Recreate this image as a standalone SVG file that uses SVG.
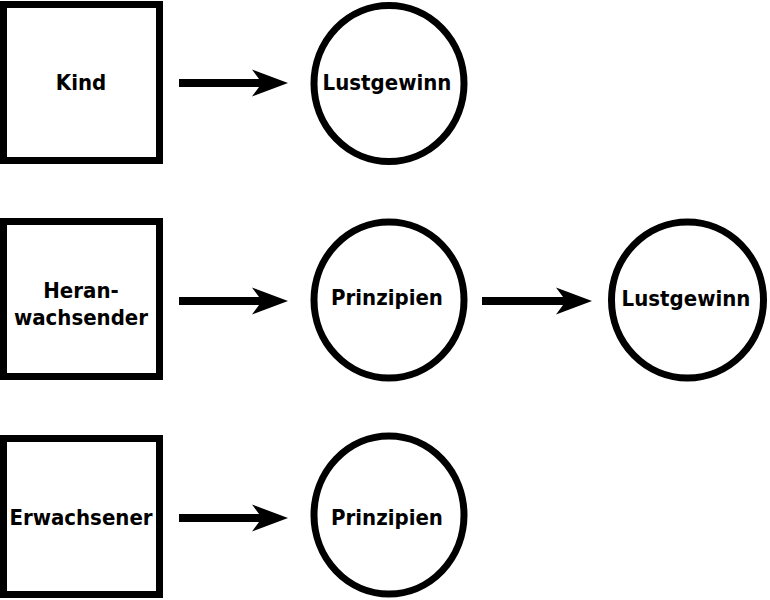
<svg xmlns="http://www.w3.org/2000/svg" width="770" height="600" viewBox="0 0 770 600">
<style>
.box{fill:#fff;stroke:#000;stroke-width:7}
.circ{fill:#fff;stroke:#000;stroke-width:7}
.lbl{font-family:"DejaVu Sans Condensed","DejaVu Sans",sans-serif;font-stretch:condensed;font-weight:bold;font-size:22px;fill:#000;text-anchor:middle}
.conn{stroke:#000;stroke-width:8;fill:none;marker-end:url(#ah)}
</style>
<defs>
<marker id="ah" markerUnits="userSpaceOnUse" markerWidth="40" markerHeight="30" refX="18" refY="0" viewBox="0 -15 40 30" orient="auto" overflow="visible">
<path d="M0,-13.5 L36,0 L0,13.5 L10,0 Z" fill="#000"/>
</marker>
</defs>
<rect width="770" height="600" fill="#fff"/>
<g id="connectors">
<line class="conn" x1="179" y1="83" x2="270" y2="83"/>
<line class="conn" x1="179" y1="301" x2="270" y2="301"/>
<line class="conn" x1="482" y1="301" x2="574" y2="301"/>
<line class="conn" x1="179" y1="518" x2="270" y2="518"/>
</g>
<g id="kind"><rect class="box" x="3.5" y="4.5" width="156" height="156"/><text class="lbl" x="81" y="90">Kind</text></g>
<g id="heranwachsender"><rect class="box" x="3.5" y="221.5" width="156" height="155"/><text class="lbl" x="81" y="298">Heran-</text><text class="lbl" x="81" y="325">wachsender</text></g>
<g id="erwachsener"><rect class="box" x="3.5" y="438.5" width="156" height="156"/><text class="lbl" x="81" y="525">Erwachsener</text></g>
<g id="lustgewinn1"><ellipse class="circ" cx="389" cy="83.5" rx="75" ry="78"/><text class="lbl" x="387" y="90">Lustgewinn</text></g>
<g id="prinzipien1"><ellipse class="circ" cx="389" cy="300" rx="75" ry="78"/><text class="lbl" x="387" y="305">Prinzipien</text></g>
<g id="lustgewinn2"><ellipse class="circ" cx="687.5" cy="300" rx="76" ry="78"/><text class="lbl" x="686" y="306">Lustgewinn</text></g>
<g id="prinzipien2"><ellipse class="circ" cx="389" cy="515" rx="75" ry="79"/><text class="lbl" x="387" y="525">Prinzipien</text></g>
</svg>
